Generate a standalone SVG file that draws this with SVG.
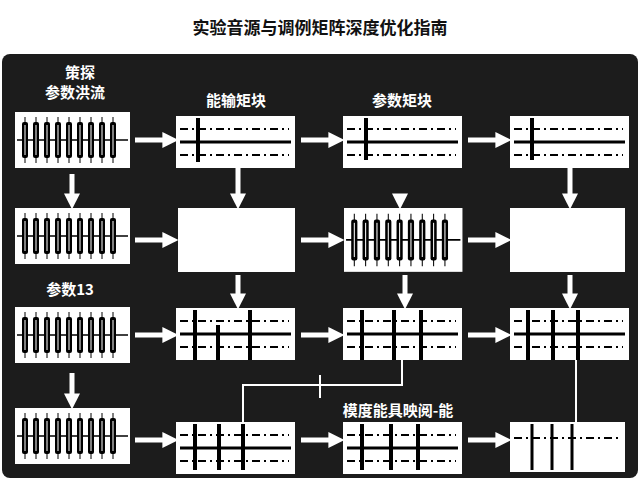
<svg xmlns="http://www.w3.org/2000/svg" width="640" height="480" viewBox="0 0 640 480">
<style>
.t{font-family:"Noto Sans CJK SC","Noto Sans",sans-serif;font-weight:bold;fill:#fff;font-size:15px;text-anchor:middle}
.b{fill:#fff}
.arr{stroke:#fff;stroke-width:5;fill:none;marker-end:url(#ah)}
.ln{stroke:#fff;stroke-width:2;fill:none}
.dd{stroke:#000;stroke-width:2;stroke-dasharray:8 4 2 4}
.bar{stroke:#000;stroke-width:4}
</style>
<defs>
<marker id="ah" viewBox="0 0 10 10" refX="6" refY="5" markerWidth="3.2" markerHeight="3.2" orient="auto"><path d="M0,0L10,5L0,10z" fill="#fff"/></marker>
<g id="wv">
<rect width="115" height="56" class="b"/>
<line x1="2" y1="28" x2="113" y2="28" stroke="#000" stroke-width="1.5"/>
<g stroke="#000" stroke-width="1"><path d="M10,5V51M21,5V51M32,5V51M43,5V51M54,5V51M65,5V51M76,5V51M87,5V51M98,5V51"/></g>
<g fill="#000"><rect x="7" y="10" width="6" height="36" rx="2"/><rect x="18" y="10" width="6" height="36" rx="2"/><rect x="29" y="10" width="6" height="36" rx="2"/><rect x="40" y="10" width="6" height="36" rx="2"/><rect x="51" y="10" width="6" height="36" rx="2"/><rect x="62" y="10" width="6" height="36" rx="2"/><rect x="73" y="10" width="6" height="36" rx="2"/><rect x="84" y="10" width="6" height="36" rx="2"/><rect x="95" y="10" width="6" height="36" rx="2"/></g>
<g fill="#fff"><rect x="9.5" y="13" width="1" height="30"/><rect x="20.5" y="13" width="1" height="30"/><rect x="31.5" y="13" width="1" height="30"/><rect x="42.5" y="13" width="1" height="30"/><rect x="53.5" y="13" width="1" height="30"/><rect x="64.5" y="13" width="1" height="30"/><rect x="75.5" y="13" width="1" height="30"/><rect x="86.5" y="13" width="1" height="30"/><rect x="97.5" y="13" width="1" height="30"/></g>
</g>
<g id="mx">
<rect width="119" height="52" class="b"/>
<line x1="4" y1="13" x2="113" y2="13" class="dd"/>
<line x1="4" y1="39" x2="113" y2="39" class="dd"/>
<line x1="4" y1="26" x2="115" y2="26" stroke="#000" stroke-width="3"/>
</g>
</defs>
<rect width="640" height="480" fill="#fff"/>
<text x="320" y="34" class="t" style="fill:#111;font-size:17px">实验音源与调例矩阵深度优化指南</text>
<rect x="2" y="54" width="636" height="424" rx="8" fill="#1c1c1c"/>
<text x="80" y="78" class="t">策探</text>
<text x="75" y="98" class="t">参数洪流</text>
<text x="236" y="106" class="t">能输矩块</text>
<text x="402" y="106" class="t">参数矩块</text>
<text x="70" y="295" class="t">参数13</text>
<text x="398" y="416" class="t">模度能具映阅-能</text>

<g id="c1r1"><use href="#wv" x="15" y="112"/></g>
<g id="c1r2"><use href="#wv" x="15" y="208"/></g>
<g id="c1r3"><use href="#wv" x="15" y="307"/></g>
<g id="c1r4"><use href="#wv" x="15" y="408"/></g>
<g id="c2r1"><use href="#mx" x="176" y="116"/><line x1="198" y1="118" x2="198" y2="162" class="bar"/></g>
<g id="c3r1"><use href="#mx" x="343" y="116"/><line x1="366" y1="118" x2="366" y2="160" class="bar"/></g>
<g id="c4r1"><use href="#mx" x="510" y="116"/><line x1="532" y1="118" x2="532" y2="160" class="bar"/></g>
<g id="c2r2"><rect x="178" y="208" width="117" height="64" class="b"/></g>
<g id="c3r2"><use href="#wv" x="344" y="208" transform="translate(344,208) scale(1.03,1.14) translate(-344,-208)"/></g>
<g id="c4r2"><rect x="510" y="208" width="115" height="64" class="b"/></g>
<g id="c2r3"><use href="#mx" x="176" y="308"/><path d="M195,310V360M218,325V360M250,310V360" class="bar"/></g>
<g id="c3r3"><use href="#mx" x="343" y="308"/><path d="M362,310V360M394,310V360M421,310V360" class="bar"/></g>
<g id="c4r3"><use href="#mx" x="510" y="308"/><path d="M528,310V360M553,310V360M578,310V360" class="bar"/></g>
<g id="c2r4"><use href="#mx" x="176" y="422"/><path d="M195,424V470M219,424V470M243,424V470" class="bar"/></g>
<g id="c3r4"><use href="#mx" x="343" y="422"/><path d="M362,424V470M391,424V470M418,424V470" class="bar"/></g>
<g id="c4r4"><rect x="510" y="422" width="115" height="50" class="b"/><line x1="514" y1="438" x2="618" y2="438" class="dd"/><path d="M532,424V470M552,424V470M572,424V470" class="bar" style="stroke-width:3"/></g>

<g id="connectors">
<path d="M135,140H172" class="arr"/><path d="M301,140H338" class="arr"/><path d="M468,140H505" class="arr"/>
<path d="M135,240H172" class="arr"/><path d="M301,240H338" class="arr"/><path d="M468,240H505" class="arr"/>
<path d="M135,335H172" class="arr"/><path d="M301,335H338" class="arr"/><path d="M468,335H505" class="arr"/>
<path d="M135,440H172" class="arr"/><path d="M301,440H338" class="arr"/><path d="M468,440H505" class="arr"/>
<path d="M72,174V203" class="arr"/><path d="M72,373V403" class="arr"/>
<path d="M238,165V203" class="arr"/><path d="M570,165V203" class="arr"/><path d="M400,195V203" class="arr"/>
<path d="M238,275V303" class="arr"/><path d="M405,275V303" class="arr"/><path d="M570,275V303" class="arr"/>
<path d="M402,360V385H243V424M576,360V424M320,375V398" class="ln"/>
</g>
</svg>
